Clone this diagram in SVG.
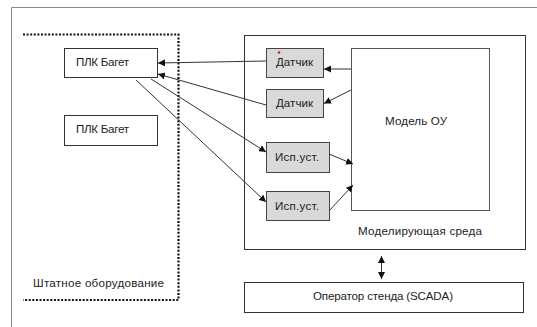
<svg xmlns="http://www.w3.org/2000/svg" width="537" height="327" viewBox="0 0 537 327">
<defs>
<marker id="ah" viewBox="0 0 10 10" refX="10" refY="5" markerWidth="7" markerHeight="7" markerUnits="userSpaceOnUse" orient="auto-start-reverse">
<path d="M0,0 L10,5 L0,10 Z" fill="#111"/>
</marker>
<style>
text{font-family:"Liberation Sans",Arial,sans-serif;font-size:11.6px;fill:#222}
.box{fill:#fff;stroke:#333;stroke-width:1}
.gbox{fill:#d9d9d9;stroke:#444;stroke-width:1}
.c{fill:none;stroke:#333;stroke-width:1;marker-end:url(#ah)}
.dot{fill:none;stroke:#111;stroke-width:2.2;stroke-dasharray:2 1.6}
</style>
</defs>
<rect width="537" height="327" fill="#fff"/>
<g id="frame">
<path d="M11.5,327 V7.5 H537" fill="none" stroke="#888" stroke-width="1"/>
</g>
<g id="staff">
<path class="dot" d="M23,34.5 H178.5 V300 H23"/>
<text x="33" y="287" textLength="131">Штатное оборудование</text>
</g>
<g id="plc1">
<rect class="box" x="64.5" y="48.5" width="93" height="29"/>
<text x="76" y="66" textLength="53">ПЛК Багет</text>
</g>
<g id="plc2">
<rect class="box" x="64.5" y="115.5" width="93" height="30"/>
<text x="76" y="133" textLength="53">ПЛК Багет</text>
</g>
<g id="env">
<rect class="box" x="244.5" y="35.5" width="281" height="214"/>
<text x="358" y="235" textLength="124">Моделирующая среда</text>
</g>
<g id="model">
<rect x="351.5" y="48.5" width="138" height="162" fill="#fff" stroke="#555"/>
<text x="385" y="125" textLength="62">Модель ОУ</text>
</g>
<g id="d1">
<rect class="gbox" x="266.5" y="48.5" width="57" height="29"/>
<text x="276" y="66" textLength="37">Датчик</text>
<circle cx="279" cy="52.5" r="1.3" fill="#e02020"/>
</g>
<g id="d2">
<rect class="gbox" x="266.5" y="89.5" width="57" height="28"/>
<text x="276" y="107" textLength="37">Датчик</text>
</g>
<g id="i1">
<rect class="gbox" x="266.5" y="142.5" width="63" height="30"/>
<text x="275" y="161" textLength="44">Исп.уст.</text>
</g>
<g id="i2">
<rect class="gbox" x="266.5" y="191.5" width="63" height="29"/>
<text x="275" y="210" textLength="44">Исп.уст.</text>
</g>
<g id="op">
<rect class="box" x="244.5" y="282.5" width="279" height="30"/>
<text x="313" y="300" textLength="140">Оператор стенда (SCADA)</text>
</g>
<g id="connectors">
<path class="c" d="M266,61 L158,63"/>
<path class="c" d="M266,105 L158,74"/>
<path class="c" d="M151,79 L266,152"/>
<path class="c" d="M136,80 L266,202"/>
<path class="c" d="M351,69 L324,69"/>
<path class="c" d="M351,90 L324,103.5"/>
<path class="c" d="M329,154 L353,164"/>
<path class="c" d="M329,211 L353,185"/>
<path class="c" d="M381.5,256 L381.5,279" style="marker-start:url(#ah)"/>
</g>
</svg>
